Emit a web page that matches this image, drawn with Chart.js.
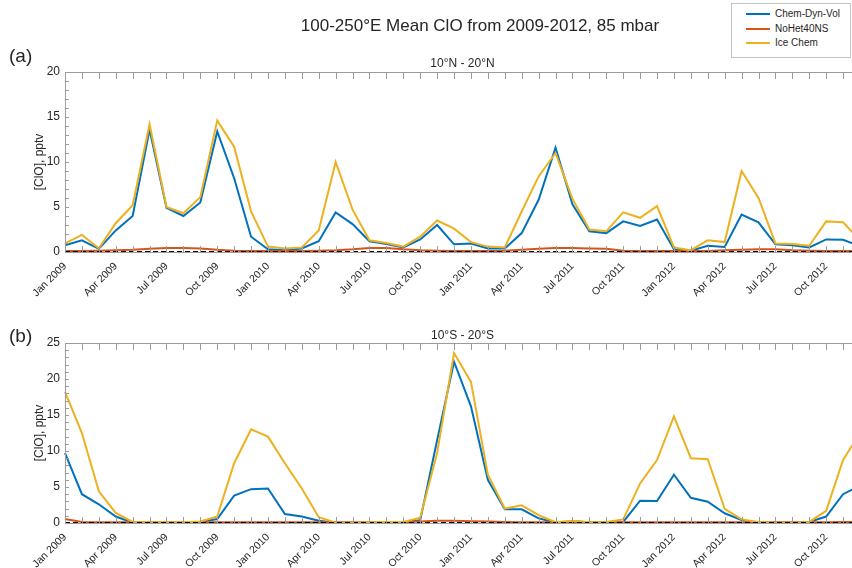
<!DOCTYPE html>
<html>
<head>
<meta charset="utf-8">
<script src="https://cdn.jsdelivr.net/npm/chart.js@4.4.1/dist/chart.umd.min.js"></script>
<style>
  html, body { margin: 0; padding: 0; width: 852px; height: 568px; overflow: hidden; background: #fff; }
  body { position: relative; font-family: "Liberation Sans", Arial, Helvetica, sans-serif; color: #262626; }
  .box { position: absolute; left: 0; width: 880px; }
  #topBox { top: 0; height: 310px; }
  #botBox { top: 300px; height: 268px; }
  .title { position: absolute; left: 0; width: 960px; top: 16px; text-align: center; font-size: 17px; }
  .sub { position: absolute; left: 65px; width: 795px; text-align: center; font-size: 12px; }
  .panel { position: absolute; left: 9px; font-size: 19px; }
  #legend { position: absolute; left: 731px; top: 3px; width: 118px; height: 53px; border: 1px solid #c4c4c4; background: #fff; font-size: 10px; }
  #legend div { position: absolute; left: 14px; height: 12px; line-height: 12px; }
  #legend span { display: inline-block; width: 24px; height: 2px; vertical-align: middle; margin-right: 5px; }
</style>
</head>
<body>
<div class="box" id="topBox"><canvas id="northChart"></canvas></div>
<div class="box" id="botBox"><canvas id="southChart"></canvas></div>
<div class="title">100-250°E Mean ClO from 2009-2012, 85 mbar</div>
<div class="panel" style="top:45px">(a)</div>
<div class="panel" style="top:325px">(b)</div>
<div class="sub" style="top:56px">10°N - 20°N</div>
<div class="sub" style="top:328px">10°S - 20°S</div>
<div id="legend">
  <div style="top:4px"><span style="background:#0072BD"></span>Chem-Dyn-Vol</div>
  <div style="top:19px"><span style="background:#D95319"></span>NoHet40NS</div>
  <div style="top:33px"><span style="background:#EDB120"></span>Ice Chem</div>
</div>
<script>
// months Jan 2009 .. Dec 2012
const monthNames = ['Jan', 'Feb', 'Mar', 'Apr', 'May', 'Jun', 'Jul', 'Aug', 'Sep', 'Oct', 'Nov', 'Dec'];
const years = [2009, 2010, 2011, 2012];
const months = [];
years.forEach(y => monthNames.forEach(m => months.push(m + ' ' + y)));

// (a) 10N - 20N
const chemDynN = [0.75, 1.3, 0.35, 2.4, 4.0, 13.6, 4.9, 4.0, 5.5, 13.4, 8.2, 1.7,
                  0.3, 0.2, 0.4, 1.2, 4.4, 3.1, 1.2, 0.9, 0.5, 1.4, 3.0, 0.85,
                  0.95, 0.4, 0.4, 2.1, 5.8, 11.6, 5.3, 2.3, 2.1, 3.4, 2.9, 3.6,
                  0.3, 0.15, 0.7, 0.55, 4.15, 3.3, 0.85, 0.75, 0.5, 1.4, 1.35, 0.65];
const noHetN = [0.1, 0.12, 0.15, 0.2, 0.25, 0.35, 0.45, 0.45, 0.4, 0.25, 0.15, 0.1,
                0.1, 0.1, 0.12, 0.15, 0.2, 0.3, 0.45, 0.45, 0.3, 0.2, 0.15, 0.12,
                0.1, 0.12, 0.15, 0.25, 0.35, 0.45, 0.45, 0.4, 0.35, 0.15, 0.1, 0.1,
                0.1, 0.1, 0.12, 0.2, 0.25, 0.3, 0.3, 0.2, 0.15, 0.1, 0.1, 0.1];
const iceN = [0.95, 1.9, 0.4, 3.2, 5.2, 14.2, 5.0, 4.3, 6.1, 14.6, 11.7, 4.5,
              0.6, 0.4, 0.5, 2.4, 10.0, 4.7, 1.3, 1.0, 0.6, 1.7, 3.5, 2.6,
              1.1, 0.6, 0.5, 4.5, 8.4, 11.0, 5.9, 2.5, 2.3, 4.4, 3.8, 5.1,
              0.5, 0.2, 1.3, 1.1, 9.0, 6.0, 0.95, 0.9, 0.7, 3.4, 3.3, 1.3];

// (b) 10S - 20S
const chemDynS = [9.7, 4.0, 2.6, 0.9, 0.05, 0.05, 0.05, 0.05, 0.15, 0.55, 3.8, 4.7,
                  4.8, 1.25, 0.9, 0.3, 0.05, 0.05, 0.05, 0.1, 0.1, 0.4, 11.5, 22.4,
                  16.2, 6.0, 1.9, 1.9, 0.65, 0.05, 0.25, 0.1, 0.1, 0.15, 3.1, 3.05,
                  6.7, 3.5, 2.95, 1.35, 0.4, 0.05, 0.05, 0.05, 0.15, 0.9, 4.0, 5.2];
const noHetS = [0.55, 0.15, 0.1, 0.1, 0.1, 0.1, 0.1, 0.1, 0.1, 0.1, 0.1, 0.1,
                0.1, 0.1, 0.1, 0.1, 0.1, 0.1, 0.1, 0.1, 0.12, 0.2, 0.3, 0.3,
                0.25, 0.2, 0.15, 0.12, 0.1, 0.1, 0.1, 0.1, 0.1, 0.1, 0.1, 0.1,
                0.1, 0.1, 0.1, 0.1, 0.1, 0.1, 0.1, 0.1, 0.1, 0.12, 0.15, 0.15];
const iceS = [18.2, 12.5, 4.4, 1.4, 0.15, 0.1, 0.1, 0.1, 0.2, 0.9, 8.3, 13.0,
              12.0, 8.3, 4.8, 0.8, 0.05, 0.05, 0.1, 0.15, 0.15, 0.75, 9.7, 23.6,
              19.6, 6.7, 2.0, 2.45, 1.1, 0.1, 0.3, 0.1, 0.15, 0.5, 5.5, 8.75,
              14.8, 9.0, 8.85, 1.95, 0.5, 0.15, 0.05, 0.05, 0.15, 1.7, 8.75, 12.5];

const zeroLine = [0, 0];

// MATLAB-like box with inward ticks
const frameTicks = {
  id: 'frameTicks',
  afterDraw(chart) {
    const { ctx, chartArea: a, scales: { x, y } } = chart;
    ctx.save();
    ctx.strokeStyle = '#9c9c9c';
    ctx.lineWidth = 1;
    ctx.beginPath();
    x.ticks.forEach((t, i) => {
      const px = Math.round(x.getPixelForTick(i)) + 0.5;
      ctx.moveTo(px, a.top); ctx.lineTo(px, a.top + 7);
      ctx.moveTo(px, a.bottom); ctx.lineTo(px, a.bottom - 6);
    });
    for (let v = y.min; v <= y.max; v++) {
      const py = Math.round(y.getPixelForValue(v)) + 0.5;
      ctx.moveTo(a.left, py); ctx.lineTo(a.left + 4, py);
    }
    ctx.stroke();
    ctx.strokeRect(Math.round(a.left) + 0.5, Math.round(a.top) + 0.5, Math.round(a.width), Math.round(a.height));
    ctx.restore();
  }
};

function makeChart(id, blue, red, orange, yMax, pad, xHeight) {
  const ctx = document.getElementById(id).getContext('2d');
  return new Chart(ctx, {
    type: 'line',
    data: {
      labels: months,
      datasets: [
        {
          label: 'zero',
          data: zeroLine.map((v, i) => ({ x: i === 0 ? months[0] : months[months.length - 1], y: v })),
          borderColor: '#000',
          borderWidth: 2,
          borderDash: [5, 3],
          order: 0
        },
        { label: 'Ice Chem', data: orange, borderColor: '#EDB120', borderWidth: 2, order: 1 },
        { label: 'NoHet40NS', data: red, borderColor: '#D95319', borderWidth: 2, order: 2 },
        { label: 'Chem-Dyn-Vol', data: blue, borderColor: '#0072BD', borderWidth: 2, order: 3 }
      ]
    },
    plugins: [frameTicks],
    options: {
      responsive: true,
      maintainAspectRatio: false,
      animation: false,
      elements: { point: { radius: 0 }, line: { tension: 0 } },
      layout: { padding: pad },
      plugins: { legend: { display: false }, tooltip: { enabled: false } },
      scales: {
        x: {
          type: 'category',
          offset: false,
          grid: { display: false },
          border: { display: false },
          ticks: {
            autoSkip: false,
            minRotation: 45,
            maxRotation: 45,
            padding: 0,
            color: '#262626',
            font: { family: 'Liberation Sans', size: 10.5 },
            callback: function (val, index) { return index % 3 === 0 ? this.getLabelForValue(val) : ''; }
          },
          afterFit: s => { s.height = xHeight; s.paddingLeft = 0; s.paddingRight = 0; }
        },
        y: {
          min: 0,
          max: yMax,
          grid: { display: false, drawTicks: false },
          border: { display: false },
          ticks: { stepSize: 5, padding: 5, color: '#262626', font: { family: 'Liberation Sans', size: 12 } },
          title: { display: true, text: '[ClO], pptv', color: '#262626', padding: 0, font: { family: 'Liberation Sans', size: 12 } },
          afterFit: s => { s.width = 33; }
        }
      }
    }
  });
}

makeChart('northChart', chemDynN, noHetN, iceN, 20, { top: 72, left: 32, right: 20, bottom: 8 }, 50);
makeChart('southChart', chemDynS, noHetS, iceS, 25, { top: 43, left: 32, right: 20, bottom: 0 }, 45);
</script>
</body>
</html>
